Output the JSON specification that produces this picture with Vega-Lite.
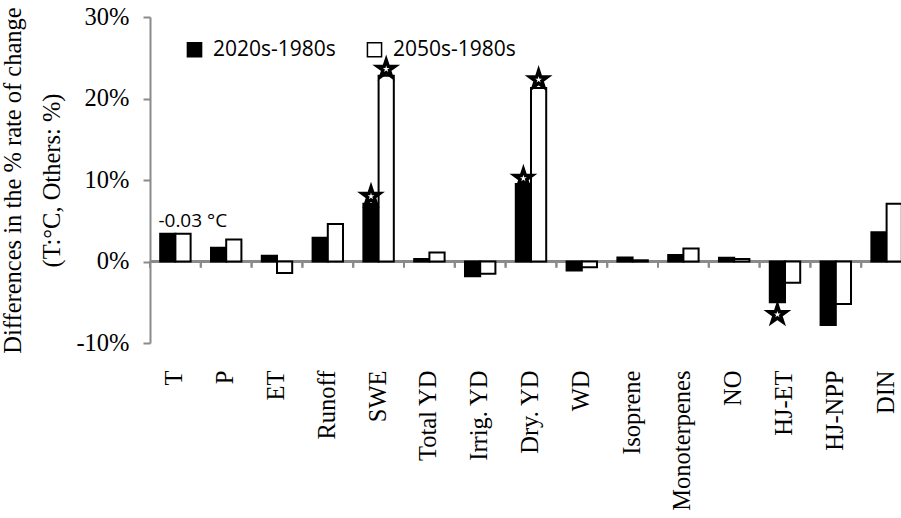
{
  "$schema": "https://vega.github.io/schema/vega-lite/v6.json",
  "width": 751,
  "height": 326,
  "autosize": {"type": "none"},
  "padding": {"left": 150, "top": 17, "right": 0, "bottom": 175},
  "background": "white",
  "config": {
    "view": {"stroke": null},
    "axis": {"grid": false}
  },
  "datasets": {
    "bars": [
      {"category": "T", "series": "2020s-1980s", "value": 3.4},
      {"category": "T", "series": "2050s-1980s", "value": 3.4},
      {"category": "P", "series": "2020s-1980s", "value": 1.7},
      {"category": "P", "series": "2050s-1980s", "value": 2.7},
      {"category": "ET", "series": "2020s-1980s", "value": 0.7},
      {"category": "ET", "series": "2050s-1980s", "value": -1.4},
      {"category": "Runoff", "series": "2020s-1980s", "value": 2.9},
      {"category": "Runoff", "series": "2050s-1980s", "value": 4.6},
      {"category": "SWE", "series": "2020s-1980s", "value": 7.1},
      {"category": "SWE", "series": "2050s-1980s", "value": 22.8},
      {"category": "Total YD", "series": "2020s-1980s", "value": 0.3},
      {"category": "Total YD", "series": "2050s-1980s", "value": 1.1},
      {"category": "Irrig. YD", "series": "2020s-1980s", "value": -1.8},
      {"category": "Irrig. YD", "series": "2050s-1980s", "value": -1.5},
      {"category": "Dry. YD", "series": "2020s-1980s", "value": 9.5},
      {"category": "Dry. YD", "series": "2050s-1980s", "value": 21.3},
      {"category": "WD", "series": "2020s-1980s", "value": -1.1},
      {"category": "WD", "series": "2050s-1980s", "value": -0.7},
      {"category": "Isoprene", "series": "2020s-1980s", "value": 0.5},
      {"category": "Isoprene", "series": "2050s-1980s", "value": 0.15},
      {"category": "Monoterpenes", "series": "2020s-1980s", "value": 0.8},
      {"category": "Monoterpenes", "series": "2050s-1980s", "value": 1.6},
      {"category": "NO", "series": "2020s-1980s", "value": 0.45},
      {"category": "NO", "series": "2050s-1980s", "value": 0.3},
      {"category": "HJ-ET", "series": "2020s-1980s", "value": -5.0},
      {"category": "HJ-ET", "series": "2050s-1980s", "value": -2.6},
      {"category": "HJ-NPP", "series": "2020s-1980s", "value": -7.8},
      {"category": "HJ-NPP", "series": "2050s-1980s", "value": -5.2},
      {"category": "DIN", "series": "2020s-1980s", "value": 3.6},
      {"category": "DIN", "series": "2050s-1980s", "value": 7.1}
    ],
    "stars": [
      {"category": "SWE", "series": "2020s-1980s", "value": 8.0},
      {"category": "SWE", "series": "2050s-1980s", "value": 23.6},
      {"category": "Dry. YD", "series": "2020s-1980s", "value": 10.2},
      {"category": "Dry. YD", "series": "2050s-1980s", "value": 22.3},
      {"category": "HJ-ET", "series": "2020s-1980s", "value": -6.5}
    ],
    "note": [
      {"category": "T", "value": 4.2, "label": "-0.03 °C"}
    ]
  },
  "layer": [
    {
      "data": {"name": "bars"},
      "mark": {"type": "rule", "color": "#8a8a8a", "strokeWidth": 2},
      "encoding": {
        "x": {"field": "category", "type": "nominal", "bandPosition": 0},
        "y": {"datum": 0},
        "y2": {"datum": -0.75}
      }
    },
    {
      "data": {"name": "bars"},
      "mark": {"type": "rule", "color": "#8a8a8a", "strokeWidth": 2},
      "encoding": {
        "y": {"datum": 0}
      }
    },
    {
      "data": {"name": "bars"},
      "mark": {"type": "bar", "stroke": "black", "strokeWidth": 2},
      "encoding": {
        "x": {
          "field": "category", "type": "nominal",
          "scale": {
            "domain": ["T", "P", "ET", "Runoff", "SWE", "Total YD", "Irrig. YD", "Dry. YD", "WD", "Isoprene", "Monoterpenes", "NO", "HJ-ET", "HJ-NPP", "DIN"],
            "range": [0, 762], "paddingInner": 0, "paddingOuter": 0
          },
          "axis": {
            "orient": "bottom", "title": null, "domain": false, "ticks": false,
            "labelAngle": -90, "labelPadding": 27, "labelFont": "Liberation Serif",
            "labelFontSize": 24.5, "labelColor": "black"
          }
        },
        "xOffset": {
          "field": "series", "type": "nominal",
          "scale": {"domain": ["2020s-1980s", "2050s-1980s"], "paddingInner": 0, "paddingOuter": 0.67}
        },
        "y": {
          "field": "value", "type": "quantitative",
          "scale": {"domain": [-10, 30], "nice": false, "zero": false},
          "axis": {
            "values": [-10, 0, 10, 20, 30],
            "labelExpr": "datum.value + '%'",
            "domainColor": "#8a8a8a", "domainWidth": 2,
            "tickColor": "#8a8a8a", "tickWidth": 2, "tickSize": 7,
            "labelFont": "Liberation Serif", "labelFontSize": 24.5, "labelColor": "black",
            "labelPadding": 14,
            "title": ["Differences in the % rate of change", "(T:°C, Others:  %)"],
            "titleFont": "Liberation Serif", "titleFontSize": 24.5, "titleFontWeight": "normal",
            "titleColor": "black", "titleLineHeight": 39, "titlePadding": 11
          }
        },
        "fill": {
          "field": "series", "type": "nominal",
          "scale": {"domain": ["2020s-1980s", "2050s-1980s"], "range": ["black", "white"]},
          "legend": {
            "title": null, "orient": "none", "legendX": 34, "legendY": 22,
            "direction": "horizontal", "symbolType": "square", "symbolSize": 200,
            "symbolStrokeColor": "black", "symbolStrokeWidth": 1.5,
            "labelFont": "Open Sans", "labelFontSize": 21, "labelColor": "black",
            "labelOffset": 8, "columnPadding": 28, "padding": 0
          }
        }
      }
    },
    {
      "data": {"name": "stars"},
      "mark": {"type": "point", "shape": "M0,-1L0.225,-0.309L0.951,-0.309L0.363,0.118L0.588,0.809L0,0.382L-0.588,0.809L-0.363,0.118L-0.951,-0.309L-0.225,-0.309Z", "fill": "black", "stroke": "black", "strokeWidth": 2, "size": 520, "opacity": 1},
      "encoding": {
        "x": {"field": "category", "type": "nominal"},
        "xOffset": {"field": "series", "type": "nominal"},
        "y": {"field": "value", "type": "quantitative"}
      }
    },
    {
      "data": {"name": "stars"},
      "mark": {"type": "point", "shape": "M0,-1L0.225,-0.309L0.951,-0.309L0.363,0.118L0.588,0.809L0,0.382L-0.588,0.809L-0.363,0.118L-0.951,-0.309L-0.225,-0.309Z", "fill": "white", "strokeWidth": 0, "size": 50, "opacity": 1},
      "encoding": {
        "x": {"field": "category", "type": "nominal"},
        "xOffset": {"field": "series", "type": "nominal"},
        "y": {"field": "value", "type": "quantitative"}
      }
    },
    {
      "data": {"name": "note"},
      "mark": {"type": "text", "align": "left", "baseline": "alphabetic", "dx": -17, "font": "Open Sans", "fontSize": 19, "color": "black"},
      "encoding": {
        "x": {"field": "category", "type": "nominal"},
        "y": {"field": "value", "type": "quantitative"},
        "text": {"field": "label"}
      }
    }
  ]
}
